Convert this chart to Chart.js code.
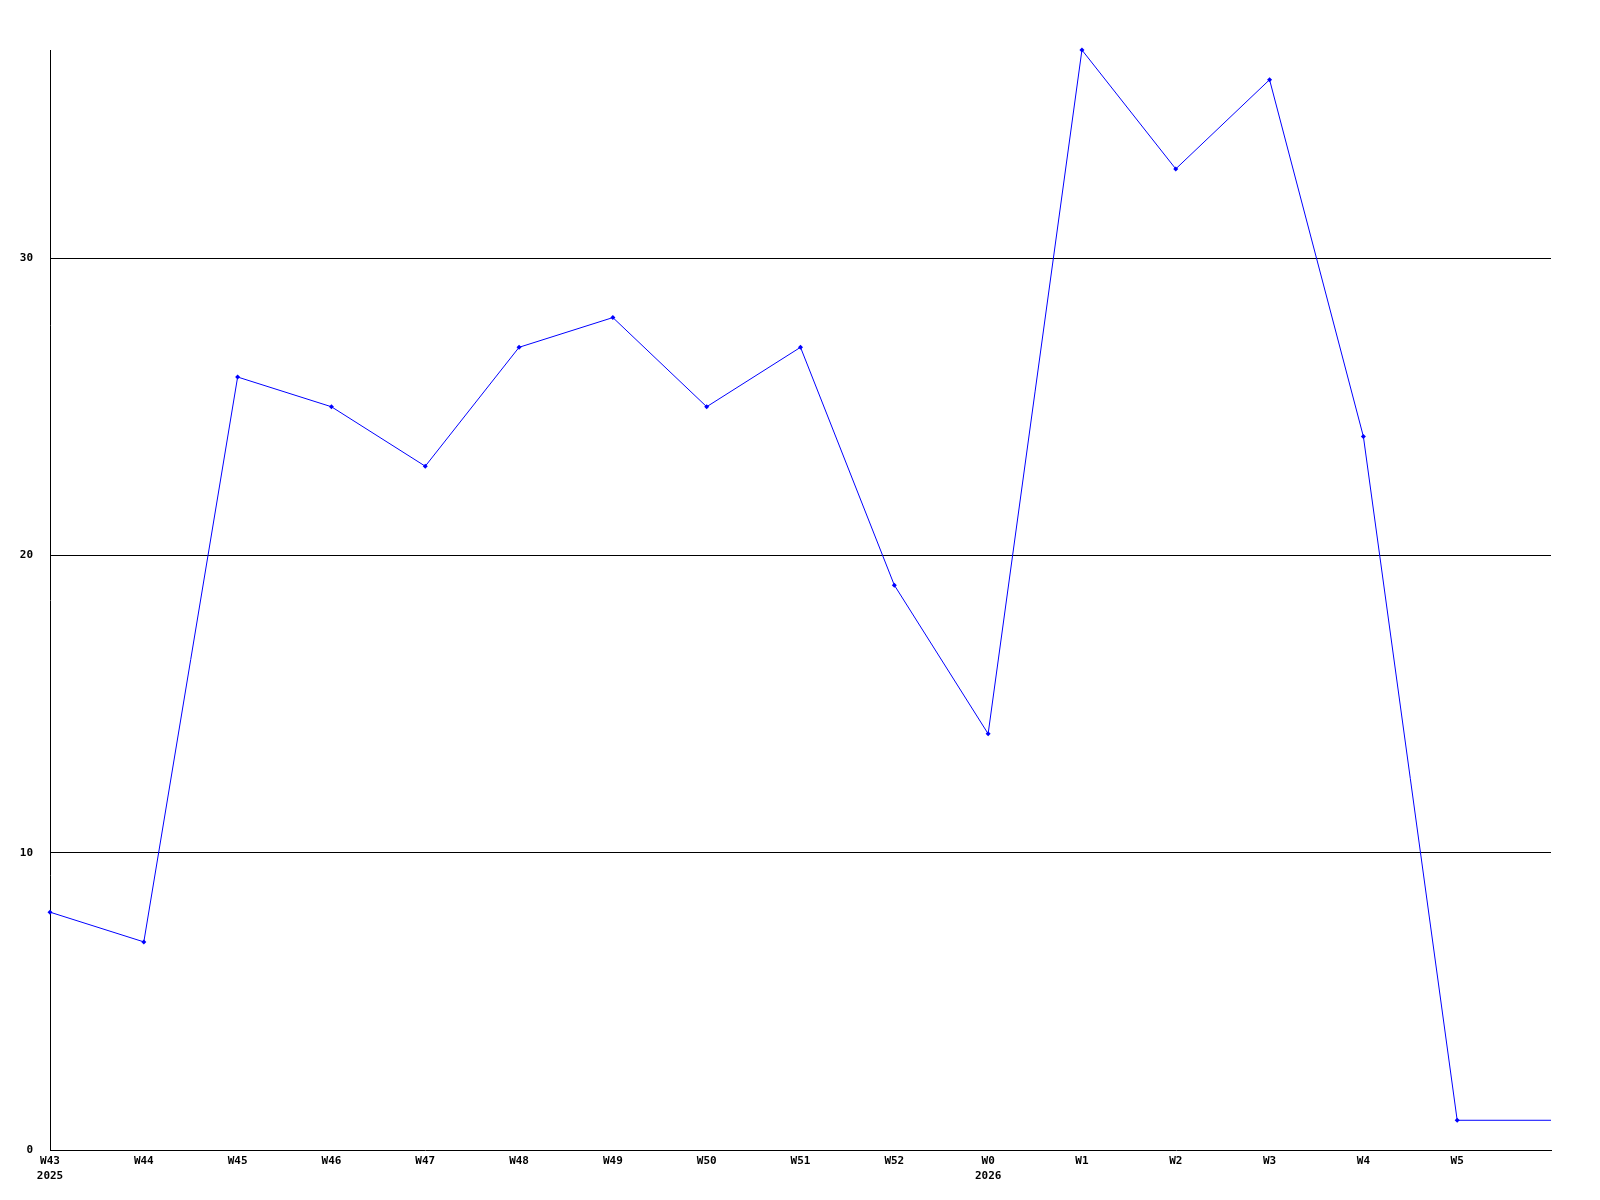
<!DOCTYPE html>
<html>
<head>
<meta charset="utf-8">
<script src="https://cdn.jsdelivr.net/npm/chart.js@4/dist/chart.umd.min.js"></script>
<style>
  html, body { margin: 0; padding: 0; background: #fff; }
  #wrap { width: 1600px; height: 1200px; }
</style>
</head>
<body>
<div id="wrap"><canvas id="chart" width="1600" height="1200"></canvas></div>
<script>
// weekly counts, last week has no tick label
const weeks = ["W43", "W44", "W45", "W46", "W47", "W48", "W49", "W50", "W51", "W52",
               "W0", "W1", "W2", "W3", "W4", "W5", ""];
const years = {0: "2025", 10: "2026"};
const counts = [8, 7, 26, 25, 23, 27, 28, 25, 27, 19, 14, 37, 33, 36, 24, 1, 1];
const yTicks = [0, 10, 20, 30];
const yMax = 37;

const labels = weeks.map((w, i) => years[i] ? [w, years[i]] : w);
const tickFont = { family: "'DejaVu Sans Mono', monospace", size: 11, weight: "bold", lineHeight: 1.35 };

new Chart(document.getElementById("chart"), {
  type: "line",
  data: {
    labels: labels,
    datasets: [{
      data: counts,
      borderColor: "#0000ff",
      backgroundColor: "#0000ff",
      borderWidth: 1,
      tension: 0,
      clip: false,
      pointStyle: "rectRot",
      pointRadius: ctx => ctx.dataIndex === counts.length - 1 ? 0 : 2.5,
      pointBorderWidth: 0
    }]
  },
  options: {
    responsive: false,
    animation: false,
    layout: { padding: { top: 50, right: 49, left: 0, bottom: 0 } },
    plugins: { legend: { display: false }, tooltip: { enabled: false } },
    scales: {
      x: {
        offset: false,
        grid: { display: false, drawTicks: false },
        border: { display: true, color: "#000", width: 1 },
        ticks: {
          color: "#000", font: tickFont, padding: 4,
          maxRotation: 0, autoSkip: false
        },
        afterFit: s => { s.height = 50; }
      },
      y: {
        min: 0, max: yMax,
        afterBuildTicks: axis => { axis.ticks = yTicks.map(v => ({ value: v })); },
        grid: {
          drawTicks: false,
          color: ctx => ctx.tick && ctx.tick.value === 0 ? "rgba(0,0,0,0)" : "#000",
          lineWidth: 1
        },
        border: { display: true, color: "#000", width: 1 },
        ticks: { color: "#000", font: tickFont, padding: 17 },
        afterFit: s => { s.width = 50; }
      }
    }
  }
});
</script>
</body>
</html>
